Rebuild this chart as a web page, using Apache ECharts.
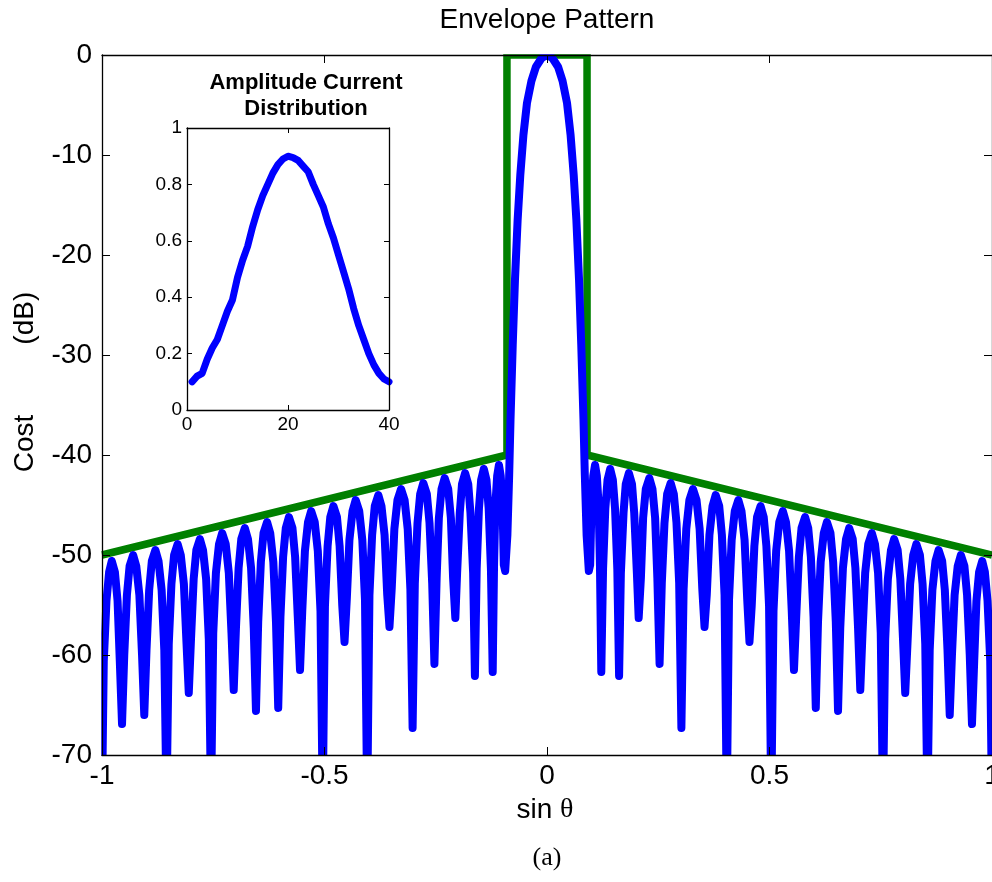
<!DOCTYPE html>
<html>
<head>
<meta charset="utf-8">
<script src="https://cdn.jsdelivr.net/npm/echarts@6/dist/echarts.min.js"></script>
<style>
html,body{margin:0;padding:0;background:#fff;}
#c{width:992px;height:882px;}
</style>
</head>
<body>
<div id="c"></div>
<script>
// ---- main pattern (sin theta, dB) ----
const patternU = [
-1.000,-0.996,-0.990,-0.984,-0.978,-0.971,-0.965,-0.960,
-0.955,-0.950,-0.944,-0.938,-0.930,-0.923,-0.916,-0.910,
-0.905,-0.900,-0.894,-0.888,-0.880,-0.873,-0.866,-0.860,
-0.855,-0.850,-0.844,-0.838,-0.830,-0.823,-0.816,-0.810,
-0.805,-0.800,-0.794,-0.788,-0.780,-0.773,-0.766,-0.760,
-0.755,-0.750,-0.744,-0.737,-0.730,-0.722,-0.715,-0.709,
-0.704,-0.699,-0.693,-0.687,-0.679,-0.672,-0.665,-0.659,
-0.654,-0.649,-0.643,-0.637,-0.629,-0.622,-0.615,-0.609,
-0.604,-0.599,-0.593,-0.587,-0.580,-0.572,-0.566,-0.560,
-0.555,-0.550,-0.544,-0.537,-0.530,-0.522,-0.515,-0.509,
-0.504,-0.499,-0.493,-0.487,-0.480,-0.472,-0.466,-0.460,
-0.455,-0.450,-0.444,-0.437,-0.430,-0.422,-0.415,-0.409,
-0.404,-0.399,-0.393,-0.387,-0.379,-0.372,-0.365,-0.359,
-0.354,-0.349,-0.343,-0.336,-0.328,-0.320,-0.313,-0.307,
-0.302,-0.297,-0.291,-0.285,-0.278,-0.270,-0.264,-0.258,
-0.253,-0.248,-0.243,-0.237,-0.230,-0.222,-0.216,-0.211,
-0.206,-0.202,-0.196,-0.191,-0.184,-0.177,-0.172,-0.166,
-0.162,-0.158,-0.153,-0.148,-0.142,-0.136,-0.131,-0.126,
-0.122,-0.119,-0.116,-0.112,-0.108,-0.104,-0.100,-0.097,
-0.094,-0.089,-0.085,-0.082,-0.077,-0.072,-0.066,-0.060,-0.053,-0.045,-0.035,-0.025,-0.012,
0,
0.012,0.025,0.035,0.045,0.053,0.060,0.066,0.072,0.077,0.082,0.085,0.089,0.094,
0.097,0.100,0.104,0.108,0.112,0.116,0.119,0.122,
0.126,0.131,0.136,0.142,0.148,0.153,0.158,0.162,
0.166,0.172,0.177,0.184,0.191,0.196,0.202,0.206,
0.211,0.216,0.222,0.230,0.237,0.243,0.248,0.253,
0.258,0.264,0.270,0.278,0.285,0.291,0.297,0.302,
0.307,0.313,0.320,0.328,0.336,0.343,0.349,0.354,
0.359,0.365,0.372,0.379,0.387,0.393,0.399,0.404,
0.409,0.415,0.422,0.430,0.437,0.444,0.450,0.455,
0.460,0.466,0.472,0.480,0.487,0.493,0.499,0.504,
0.509,0.515,0.522,0.530,0.537,0.544,0.550,0.555,
0.560,0.566,0.572,0.580,0.587,0.593,0.599,0.604,
0.609,0.615,0.622,0.629,0.637,0.643,0.649,0.654,
0.659,0.665,0.672,0.679,0.687,0.693,0.699,0.704,
0.709,0.715,0.722,0.730,0.737,0.744,0.750,0.755,
0.760,0.766,0.773,0.780,0.788,0.794,0.800,0.805,
0.810,0.816,0.823,0.830,0.838,0.844,0.850,0.855,
0.860,0.866,0.873,0.880,0.888,0.894,0.900,0.905,
0.910,0.916,0.923,0.930,0.938,0.944,0.950,0.955,
0.960,0.965,0.971,0.978,0.984,0.990,0.996,1.000];

const patternDB = [
-75,-60.6,-54.6,-51.7,-50.6,-51.7,-54.6,-60.6,
-66.9,-60.0,-54.0,-51.1,-50.0,-51.1,-54.0,-60.0,
-66.0,-59.5,-53.5,-50.6,-49.5,-50.6,-53.5,-59.5,
-75,-58.9,-52.9,-50.0,-48.9,-50.0,-52.9,-58.9,
-63.8,-58.4,-52.4,-49.5,-48.4,-49.5,-52.4,-58.4,
-75,-57.8,-51.8,-48.9,-47.8,-48.9,-51.8,-57.8,
-63.5,-57.3,-51.3,-48.4,-47.3,-48.4,-51.3,-57.3,
-65.6,-56.7,-50.7,-47.8,-46.7,-47.8,-50.7,-56.7,
-65.3,-56.2,-50.2,-47.3,-46.2,-47.3,-50.2,-56.2,
-61.5,-55.6,-49.6,-46.7,-45.6,-46.7,-49.6,-55.6,
-75,-55.1,-49.1,-46.2,-45.1,-46.2,-49.1,-55.1,
-58.7,-54.5,-48.5,-45.6,-44.5,-45.6,-48.5,-54.5,
-75,-54.0,-48.0,-45.1,-44.0,-45.1,-48.0,-54.0,
-57.2,-53.4,-47.4,-44.5,-43.4,-44.5,-47.4,-53.4,
-67.3,-52.8,-46.8,-43.9,-42.8,-43.9,-46.8,-52.8,
-60.9,-52.3,-46.3,-43.4,-42.3,-43.4,-46.3,-52.3,
-56.3,-51.8,-45.8,-42.9,-41.8,-42.9,-45.8,-51.8,
-62.1,-51.4,-45.4,-42.5,-41.4,-42.5,-45.4,-51.4,
-61.7,-51.0,-45.0,-42.1,-41.0,-42.1,-45.0,-51.0,
-51.6,-48.0,-42.0,-36.5,-29.0,-22.5,-16.5,-12.0,-8.0,-4.8,-2.6,-1.2,-0.3,
0,
-0.3,-1.2,-2.6,-4.8,-8.0,-12.0,-16.5,-22.5,-29.0,-36.5,-42.0,-48.0,-51.6,
-51.0,-45.0,-42.1,-41.0,-42.1,-45.0,-51.0,-61.7,
-51.4,-45.4,-42.5,-41.4,-42.5,-45.4,-51.4,-62.1,
-51.8,-45.8,-42.9,-41.8,-42.9,-45.8,-51.8,-56.3,
-52.3,-46.3,-43.4,-42.3,-43.4,-46.3,-52.3,-60.9,
-52.8,-46.8,-43.9,-42.8,-43.9,-46.8,-52.8,-67.3,
-53.4,-47.4,-44.5,-43.4,-44.5,-47.4,-53.4,-57.2,
-54.0,-48.0,-45.1,-44.0,-45.1,-48.0,-54.0,-75,
-54.5,-48.5,-45.6,-44.5,-45.6,-48.5,-54.5,-58.7,
-55.1,-49.1,-46.2,-45.1,-46.2,-49.1,-55.1,-75,
-55.6,-49.6,-46.7,-45.6,-46.7,-49.6,-55.6,-61.5,
-56.2,-50.2,-47.3,-46.2,-47.3,-50.2,-56.2,-65.3,
-56.7,-50.7,-47.8,-46.7,-47.8,-50.7,-56.7,-65.6,
-57.3,-51.3,-48.4,-47.3,-48.4,-51.3,-57.3,-63.5,
-57.8,-51.8,-48.9,-47.8,-48.9,-51.8,-57.8,-75,
-58.4,-52.4,-49.5,-48.4,-49.5,-52.4,-58.4,-63.8,
-58.9,-52.9,-50.0,-48.9,-50.0,-52.9,-58.9,-75,
-59.5,-53.5,-50.6,-49.5,-50.6,-53.5,-59.5,-66.0,
-60.0,-54.0,-51.1,-50.0,-51.1,-54.0,-60.0,-66.9,
-60.6,-54.6,-51.7,-50.6,-51.7,-54.6,-60.6,-75];

// ---- envelope mask ----
const envelopeU  = [-1, -0.09, -0.09, 0.09, 0.09, 1];
const envelopeDB = [-50, -40, 0, 0, -40, -50];

// ---- inset: amplitude current distribution ----
const elementIndex = [1,2,3,4,5,6,7,8,9,10,11,12,13,14,15,16,17,18,19,20,
                      21,22,23,24,25,26,27,28,29,30,31,32,33,34,35,36,37,38,39,40];
const amplitude = [0.10,0.12,0.13,0.18,0.22,0.25,0.30,0.35,0.39,0.47,
                   0.53,0.58,0.65,0.71,0.76,0.80,0.84,0.87,0.89,0.90,
                   0.895,0.885,0.865,0.845,0.80,0.76,0.72,0.66,0.61,0.55,
                   0.49,0.43,0.36,0.30,0.25,0.20,0.16,0.13,0.11,0.10];

// ---- texts ----
const titleText = 'Envelope Pattern';
const insetTitle = 'Amplitude Current\nDistribution';
const yName = 'Cost         (dB)';
const caption = '(a)';

function zip(a, b) { return a.map((v, i) => [v, b[i]]); }

const FONT = "'Liberation Sans', Arial, Helvetica, sans-serif";
const SERIF = "'Liberation Serif', 'Times New Roman', serif";

function mkAxis(grid, pos, min, max, interval, showLabel, fs, margin, tickLen) {
  return {
    type: 'value', gridIndex: grid, position: pos, min: min, max: max, interval: interval,
    z: 10,
    axisLine: { show: true, onZero: false, lineStyle: { color: '#000', width: 1.3 } },
    axisTick: { show: true, inside: true, length: tickLen, lineStyle: { color: '#000', width: 1 } },
    axisLabel: { show: showLabel, fontSize: fs, fontFamily: FONT, color: '#000', margin: margin,
                 showMinLabel: true, showMaxLabel: true, hideOverlap: false },
    splitLine: { show: false }
  };
}

const chart = echarts.init(document.getElementById('c'), null, { renderer: 'canvas' });
chart.setOption({
  animation: false,
  backgroundColor: '#fff',
  grid: [
    { left: 102, right: 0, top: 55, height: 700, containLabel: false, outerBoundsMode: 'none' },
    { left: 187, top: 128, width: 202, height: 282, containLabel: false, outerBoundsMode: 'none' }
  ],
  xAxis: [
    mkAxis(0, 'bottom', -1, 1, 0.5, true, 28, 7, 8),
    mkAxis(0, 'top', -1, 1, 0.5, false, 28, 7, 8),
    mkAxis(1, 'bottom', 0, 40, 20, true, 19, 5, 5),
    mkAxis(1, 'top', 0, 40, 20, false, 19, 5, 5)
  ],
  yAxis: [
    mkAxis(0, 'left', -70, 0, 10, true, 28, 10, 8),
    mkAxis(0, 'right', -70, 0, 10, false, 28, 10, 8),
    mkAxis(1, 'left', 0, 1, 0.2, true, 19, 5, 5),
    mkAxis(1, 'right', 0, 1, 0.2, false, 19, 5, 5)
  ],
  series: [
    {
      type: 'line', xAxisIndex: 0, yAxisIndex: 0, data: zip(envelopeU, envelopeDB),
      symbol: 'none', z: 2, clip: true,
      lineStyle: { color: '#008000', width: 7.5, join: 'miter' }
    },
    {
      type: 'line', xAxisIndex: 0, yAxisIndex: 0, data: zip(patternU, patternDB),
      symbol: 'none', z: 3, clip: true, smooth: false,
      lineStyle: { color: '#0000ff', width: 8, cap: 'round', join: 'round' }
    },
    {
      type: 'line', xAxisIndex: 2, yAxisIndex: 2, data: zip(elementIndex, amplitude),
      symbol: 'none', z: 3, clip: false,
      lineStyle: { color: '#0000ff', width: 7, cap: 'round', join: 'round' }
    }
  ],
  graphic: [
    // white masks trimming the line overhang outside the main axes box
    { type: 'rect', z: 9, silent: true, shape: { x: 96, y: 44, width: 900, height: 10.3 }, style: { fill: '#fff' } },
    { type: 'rect', z: 9, silent: true, shape: { x: 96, y: 755.7, width: 900, height: 6 }, style: { fill: '#fff' } },
    { type: 'rect', z: 9, silent: true, shape: { x: 94, y: 44, width: 7.3, height: 718 }, style: { fill: '#fff' } },
    { type: 'text', z: 11, x: 547, y: 20, style: { text: titleText, font: "28px " + FONT, fill: '#000', align: 'center', verticalAlign: 'middle' } },
    { type: 'text', z: 11, x: 306, y: 96, style: { text: insetTitle, font: "bold 22px " + FONT, fill: '#000', align: 'center', verticalAlign: 'middle', lineHeight: 26 } },
    { type: 'text', z: 11, x: 25, y: 382, rotation: Math.PI / 2, style: { text: yName, font: "28px " + FONT, fill: '#000', align: 'center', verticalAlign: 'middle' } },
    { type: 'text', z: 11, x: 545, y: 810, style: {
        text: '{a|sin }{b|θ}', align: 'center', verticalAlign: 'middle',
        rich: { a: { fontSize: 28, fontFamily: FONT, color: '#000' },
                b: { fontSize: 28, fontFamily: SERIF, color: '#000' } } } },
    { type: 'text', z: 11, x: 547, y: 858, style: { text: caption, font: "26px " + SERIF, fill: '#000', align: 'center', verticalAlign: 'middle' } }
  ]
});
</script>
</body>
</html>
